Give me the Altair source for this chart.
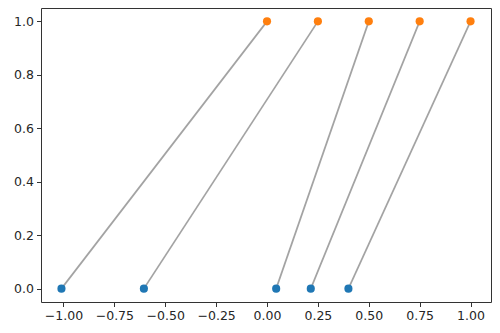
import altair as alt
import pandas as pd

# Data
bottom_x = [-1.01, -0.605, 0.045, 0.215, 0.40]
top_x = [0.0, 0.25, 0.5, 0.75, 1.0]
bottom_y = [0, 0, 0, 0, 0]
top_y = [1, 1, 1, 1, 1]

x_ticks = [-1.0, -0.75, -0.5, -0.25, 0.0, 0.25, 0.5, 0.75, 1.0]
y_ticks = [0.0, 0.2, 0.4, 0.6, 0.8, 1.0]

rows = []
for i, (bx, by, tx, ty) in enumerate(zip(bottom_x, bottom_y, top_x, top_y)):
    rows.append({"pair": i, "x": bx, "y": by, "grp": "bottom"})
    rows.append({"pair": i, "x": tx, "y": ty, "grp": "top"})
df = pd.DataFrame(rows)

xscale = alt.Scale(domain=[-1.1105, 1.1005], nice=False, zero=False)
yscale = alt.Scale(domain=[-0.05, 1.05], nice=False, zero=False)

xaxis = alt.Axis(values=x_ticks, format=".2f", labelExpr="replace(datum.label, '-', '\u2212')",
                 grid=False, domain=False, title=None, labelFlush=False, labelOverlap=False)
yaxis = alt.Axis(values=y_ticks, format=".1f", grid=False, domain=False, title=None)

base = alt.Chart(df)

lines = base.mark_line(color="#a3a3a3", strokeWidth=1.7).encode(
    x=alt.X("x:Q", scale=xscale, axis=xaxis),
    y=alt.Y("y:Q", scale=yscale, axis=yaxis),
    detail="pair:N",
)

points = base.mark_circle(size=66, opacity=1).encode(
    x=alt.X("x:Q", scale=xscale),
    y=alt.Y("y:Q", scale=yscale),
    color=alt.Color("grp:N", scale=alt.Scale(domain=["bottom", "top"], range=["#1f77b4", "#ff7f0e"]), legend=None),
)

chart = (lines + points).properties(
    width=450, height=294,
    background="white",
    autosize=alt.AutoSizeParams(type="none"),
    padding={"left": 41, "top": 8, "right": 9, "bottom": 31},
).configure_view(
    stroke="#333333", strokeWidth=1
).configure_axis(
    labelFont="DejaVu Sans", labelFontSize=12.5, labelColor="#262626",
    tickColor="#333333", tickSize=4.5, tickWidth=1, labelPadding=3,
)

chart.save("out.html", embed_options={"renderer": "svg", "actions": False})
